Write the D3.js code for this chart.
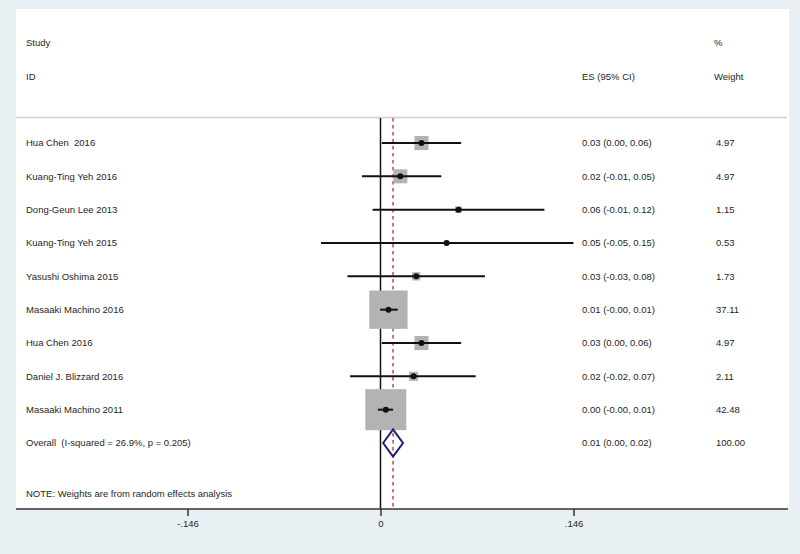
<!DOCTYPE html>
<html>
<head>
<meta charset="utf-8">
<script src="https://cdn.jsdelivr.net/npm/d3@7"></script>
<style>
  html, body { margin: 0; padding: 0; background: #e9f0f3; }
  svg { display: block; }
  text { font-family: "Liberation Sans", Arial, Helvetica, sans-serif; fill: #262626; white-space: pre; }
</style>
</head>
<body>
<svg id="chart" width="800" height="554"></svg>
<script>
// ---- data ----
const studies = [
  "Hua Chen  2016",
  "Kuang-Ting Yeh 2016",
  "Dong-Geun Lee 2013",
  "Kuang-Ting Yeh 2015",
  "Yasushi Oshima 2015",
  "Masaaki Machino 2016",
  "Hua Chen 2016",
  "Daniel J. Blizzard 2016",
  "Masaaki Machino 2011"
];
const es    = [0.031, 0.015, 0.059, 0.050, 0.027, 0.006, 0.031, 0.025, 0.004];
const lower = [0.001, -0.014, -0.006, -0.045, -0.025, -0.0003, 0.001, -0.023, -0.002];
const upper = [0.061, 0.046, 0.124, 0.146, 0.079, 0.013, 0.061, 0.072, 0.0095];
const weights = [4.97, 4.97, 1.15, 0.53, 1.73, 37.11, 4.97, 2.11, 42.48];
const esLabels = [
  "0.03 (0.00, 0.06)",
  "0.02 (-0.01, 0.05)",
  "0.06 (-0.01, 0.12)",
  "0.05 (-0.05, 0.15)",
  "0.03 (-0.03, 0.08)",
  "0.01 (-0.00, 0.01)",
  "0.03 (0.00, 0.06)",
  "0.02 (-0.02, 0.07)",
  "0.00 (-0.00, 0.01)"
];
const weightLabels = ["4.97", "4.97", "1.15", "0.53", "1.73", "37.11", "4.97", "2.11", "42.48"];
const overallLabel = "Overall  (I-squared = 26.9%, p = 0.205)";
const overallES = 0.0095, overallLo = 0.002, overallHi = 0.017;
const overallESLabel = "0.01 (0.00, 0.02)";
const overallWeightLabel = "100.00";
const tickValues = [-0.146, 0, 0.146];
const tickLabels = ["-.146", "0", ".146"];
const noteText = "NOTE: Weights are from random effects analysis";

// ---- layout ----
const svg = d3.select("#chart");
const panel = {x0: 16, y0: 9, x1: 789, y1: 509};
const plotTop = 118;
const fs = 9.5;

const x = d3.scaleLinear().domain([-0.146, 0.146]).range([187.5, 573.5]);
const y = d3.scaleLinear().domain([0, 9]).range([143, 443]);
const side = d3.scaleSqrt().domain([0, 42.48]).range([0, 41]);

// white panel
svg.append("rect").attr("x", panel.x0).attr("y", panel.y0)
  .attr("width", panel.x1 - panel.x0).attr("height", panel.y1 - panel.y0)
  .attr("fill", "#ffffff");

// headers
const hdr = svg.append("g").style("font-size", fs + "px");
hdr.append("text").attr("x", 26).attr("y", 43).attr("dy", "0.35em").text("Study");
hdr.append("text").attr("x", 26).attr("y", 77).attr("dy", "0.35em").text("ID");
hdr.append("text").attr("x", 582).attr("y", 77).attr("dy", "0.35em").text("ES (95% CI)");
hdr.append("text").attr("x", 714).attr("y", 43).attr("dy", "0.35em").text("%");
hdr.append("text").attr("x", 714).attr("y", 77).attr("dy", "0.35em").text("Weight");

// top gray separator
svg.append("line").attr("x1", panel.x0).attr("x2", panel.x1 - 2)
  .attr("y1", plotTop - 0.5).attr("y2", plotTop - 0.5)
  .attr("stroke", "#cfcfcf").attr("stroke-width", 1.5);

// vertical null line
svg.append("line").attr("x1", x(0)).attr("x2", x(0))
  .attr("y1", plotTop).attr("y2", panel.y1)
  .attr("stroke", "#111").attr("stroke-width", 1.5);

// overall dashed line
svg.append("line").attr("x1", x(overallES)).attr("x2", x(overallES))
  .attr("y1", plotTop).attr("y2", panel.y1)
  .attr("stroke", "#cc4444").attr("stroke-width", 1.5)
  .attr("stroke-dasharray", "3.5,3.5");

// study rows
const rows = svg.append("g");
studies.forEach((s, i) => {
  const cy = y(i);
  const w = side(weights[i]);
  rows.append("rect")
    .attr("x", x(es[i]) - w / 2).attr("y", cy - w / 2)
    .attr("width", w).attr("height", w)
    .attr("fill", "#b3b3b3");
  rows.append("line")
    .attr("x1", x(lower[i])).attr("x2", x(upper[i]))
    .attr("y1", cy).attr("y2", cy)
    .attr("stroke", "#111").attr("stroke-width", 2);
  rows.append("circle")
    .attr("cx", x(es[i])).attr("cy", cy).attr("r", 3)
    .attr("fill", "#111");
  rows.append("text").attr("x", 26).attr("y", cy).attr("dy", "0.35em")
    .attr("xml:space", "preserve")
    .style("font-size", fs + "px").text(s);
  rows.append("text").attr("x", 582).attr("y", cy).attr("dy", "0.35em")
    .style("font-size", fs + "px").text(esLabels[i]);
  rows.append("text").attr("x", 716).attr("y", cy).attr("dy", "0.35em")
    .style("font-size", fs + "px").text(weightLabels[i]);
});

// overall diamond
const oy = y(9);
const dh = 13.5;
svg.append("path")
  .attr("d", `M${x(overallLo)},${oy} L${x(overallES)},${oy - dh} L${x(overallHi)},${oy} L${x(overallES)},${oy + dh} Z`)
  .attr("fill", "none").attr("stroke", "#1f1f7a").attr("stroke-width", 2);
svg.append("text").attr("x", 26).attr("y", oy).attr("dy", "0.35em")
  .attr("xml:space", "preserve")
  .style("font-size", fs + "px").text(overallLabel);
svg.append("text").attr("x", 582).attr("y", oy).attr("dy", "0.35em")
  .style("font-size", fs + "px").text(overallESLabel);
svg.append("text").attr("x", 716).attr("y", oy).attr("dy", "0.35em")
  .style("font-size", fs + "px").text(overallWeightLabel);

// note
svg.append("text").attr("x", 26).attr("y", y(10.53)).attr("dy", "0.35em")
  .style("font-size", fs + "px").text(noteText);

// axis
svg.append("line").attr("x1", panel.x0).attr("x2", panel.x1 - 1)
  .attr("y1", panel.y1).attr("y2", panel.y1)
  .attr("stroke", "#333").attr("stroke-width", 1.5);
const axis = d3.axisBottom(x).tickValues(tickValues)
  .tickFormat((d, i) => tickLabels[i]).tickSize(7).tickPadding(4);
const ag = svg.append("g").attr("transform", `translate(0,${panel.y1})`).call(axis);
ag.select(".domain").remove();
ag.selectAll(".tick line").attr("stroke", "#333").attr("stroke-width", 1.5);
ag.selectAll(".tick text").style("font-size", fs + "px")
  .style("font-family", "'Liberation Sans', Arial, sans-serif").attr("fill", "#333");
</script>
</body>
</html>
